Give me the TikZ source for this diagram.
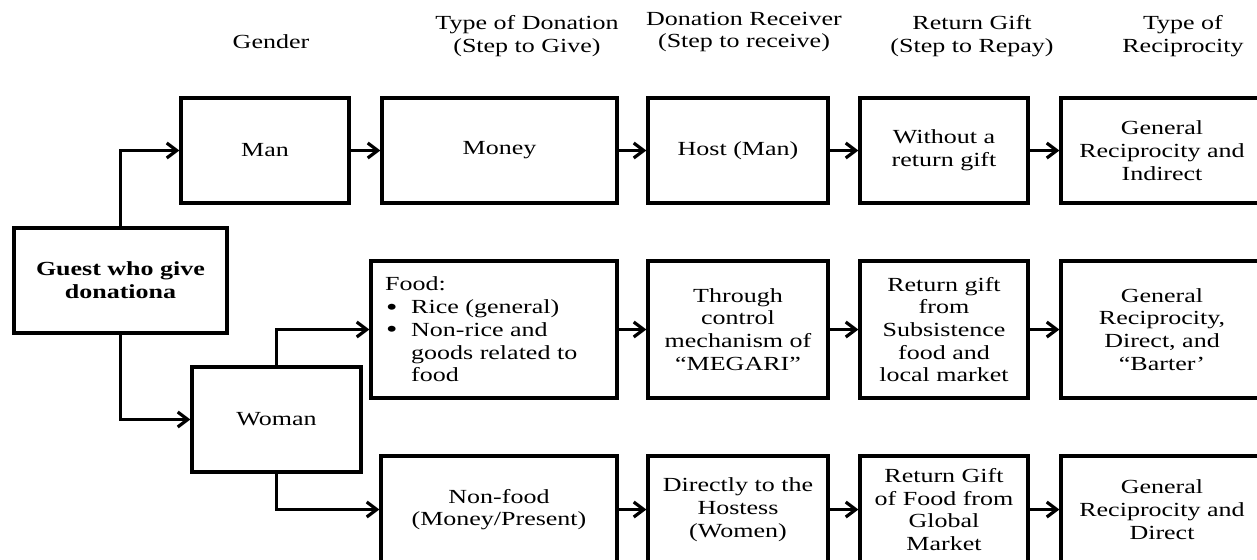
\documentclass[tikz,border=0pt]{standalone}
\usepackage{fontspec}
\setmainfont{Liberation Serif}[FakeStretch=1.3]
\usetikzlibrary{arrows.meta}
\newcommand{\bigbul}{\makebox[26pt][l]{\hspace*{1pt}\smash{\raisebox{-1.5pt}{\fontsize{25}{20}\selectfont\textbullet}}}}
\tikzset{
  txt/.style={font=\fontsize{20}{22.7}\selectfont, align=center, inner sep=0pt},
  box/.style={txt, draw, line width=3.2pt},
  toprow/.style={box, minimum height=105pt},
  midrow/.style={box, minimum height=137pt},
  botrow/.style={box, minimum height=107pt},
  conn/.style={line width=3.2pt, -{Straight Barb[length=10pt,width=15pt,line width=3.2pt]}},
}
\begin{document}
\begin{tikzpicture}[x=1pt,y=-1pt]
\useasboundingbox (0,0) rectangle (1257,559);
% headers
\node[txt] (h1) at (271,42) {Gender};
\node[txt] (h2) at (527,36) {Type of Donation\\(Step to Give)};
\node[txt] (h3) at (744,32) {Donation Receiver\\(Step to receive)};
\node[txt] (h4) at (972,36) {Return Gift\\(Step to Repay)};
\node[txt] (h5) at (1183,36) {Type of\\Reciprocity};
% boxes
\node[box, minimum width=213pt, minimum height=105pt] (guest) at (120.5,280.5) {\bfseries Guest who give\\\bfseries donationa};
\node[toprow, minimum width=168pt] (man) at (265,150.5) {Man};
\node[toprow, minimum width=235pt] (money) at (499.5,150.5) {Money};
\node[toprow, minimum width=180pt] (host) at (738,150.5) {Host (Man)};
\node[toprow, minimum width=168pt] (without) at (944,150.5) {Without a\\return gift};
\node[toprow, minimum width=202pt] (gen1) at (1162,150.5) {General\\Reciprocity and\\Indirect};
\node[box, minimum width=169pt, minimum height=105pt] (woman) at (276.5,419.5) {Woman};
\node[midrow, minimum width=246pt] (food) at (494,329.5) {};
\node[txt, align=left, anchor=west] (foodtxt) at (385,329.5) {Food:\\\hspace*{0pt}\bigbul Rice (general)\\\hspace*{0pt}\bigbul Non-rice and\\\hspace*{26pt}goods related to\\\hspace*{26pt}food};
\node[midrow, minimum width=180pt] (through) at (738,329.5) {Through\\control\\mechanism of\\``MEGARI''};
\node[midrow, minimum width=168pt] (retsub) at (944,329.5) {Return gift\\from\\Subsistence\\food and\\local market};
\node[midrow, minimum width=202pt] (gen2) at (1162,329.5) {General\\Reciprocity,\\Direct, and\\``Barter'};
\node[botrow, minimum width=236pt] (nonfood) at (499,509.5) {Non-food\\(Money/Present)};
\node[botrow, minimum width=180pt] (direct) at (738,509.5) {Directly to the\\Hostess\\(Women)};
\node[botrow, minimum width=168pt] (retglob) at (944,509.5) {Return Gift\\of Food from\\Global\\Market};
\node[botrow, minimum width=202pt] (gen3) at (1162,509.5) {General\\Reciprocity and\\Direct};
% connectors
\draw[conn] (guest.north) |- (man.west);
\draw[conn] (guest.south) |- (woman.west);
\draw[conn] (woman.north) |- (food.west);
\draw[conn] (woman.south) |- (nonfood.west);
\draw[conn] (man) -- (money);
\draw[conn] (money) -- (host);
\draw[conn] (host) -- (without);
\draw[conn] (without) -- (gen1);
\draw[conn] (food) -- (through);
\draw[conn] (through) -- (retsub);
\draw[conn] (retsub) -- (gen2);
\draw[conn] (nonfood) -- (direct);
\draw[conn] (direct) -- (retglob);
\draw[conn] (retglob) -- (gen3);
\end{tikzpicture}
\end{document}
